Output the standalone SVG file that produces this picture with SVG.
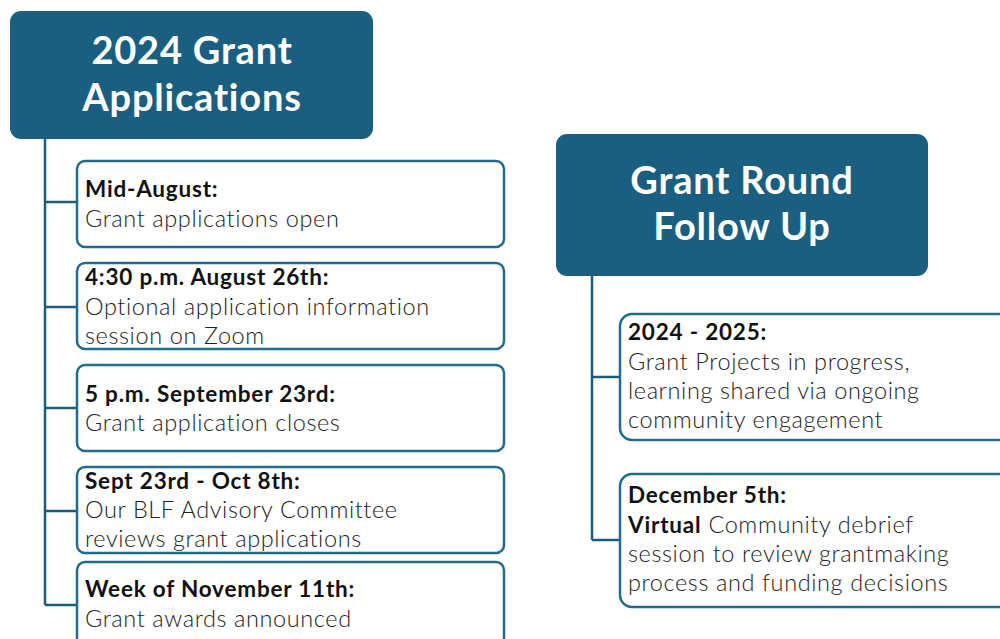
<svg xmlns="http://www.w3.org/2000/svg" width="1000" height="639" viewBox="0 0 1000 639">
<style>
.hdr{fill:#1a5f81}
.ht{font-family:Lato,"Liberation Sans",sans-serif;font-weight:700;font-size:38px;letter-spacing:0.8px;fill:#fff;text-anchor:middle}
.box{fill:#fff;stroke:#226b8c;stroke-width:2.5}
.b{font-family:Lato,"Liberation Sans",sans-serif;font-weight:700;font-size:22.5px;letter-spacing:0.8px;fill:#111}
.r{font-family:Lato,"Liberation Sans",sans-serif;font-weight:300;font-size:23.5px;letter-spacing:0.6px;fill:#222}
.con{fill:none;stroke:#1b5c7c;stroke-width:2.5}
</style>
<rect width="1000" height="639" fill="#fff"/>
<g id="connectors">
<path class="con" d="M45 139V605M45 202H77M45 307H77M45 408H77M45 511H77M45 605H77"/>
<path class="con" d="M592 276V540M592 377H620M592 540H620"/>
</g>
<g id="hdr-left">
<rect class="hdr" x="10" y="11" width="363" height="128" rx="11"/>
<text class="ht" x="192" y="64">2024 Grant</text>
<text class="ht" x="192" y="111">Applications</text>
</g>
<g id="n1">
<rect class="box" x="77" y="161" width="427" height="86" rx="8"/>
<text class="b" x="85" y="197">Mid-August:</text>
<text class="r" x="85" y="227">Grant applications open</text>
</g>
<g id="n2">
<rect class="box" x="77" y="263" width="427" height="86" rx="8"/>
<text class="b" x="85" y="285">4:30 p.m. August 26th:</text>
<text class="r" x="85" y="315">Optional application information</text>
<text class="r" x="85" y="344">session on Zoom</text>
</g>
<g id="n3">
<rect class="box" x="77" y="365" width="427" height="86" rx="8"/>
<text class="b" x="85" y="402">5 p.m. September 23rd:</text>
<text class="r" x="85" y="431">Grant application closes</text>
</g>
<g id="n4">
<rect class="box" x="77" y="467" width="427" height="86" rx="8"/>
<text class="b" x="85" y="489">Sept 23rd - Oct 8th:</text>
<text class="r" x="85" y="518">Our BLF Advisory Committee</text>
<text class="r" x="85" y="547">reviews grant applications</text>
</g>
<g id="n5">
<rect class="box" x="77" y="562" width="427" height="100" rx="8"/>
<text class="b" x="85" y="597">Week of November 11th:</text>
<text class="r" x="85" y="627">Grant awards announced</text>
</g>
<g id="hdr-right">
<rect class="hdr" x="556" y="134" width="372" height="142" rx="11"/>
<text class="ht" x="742" y="194">Grant Round</text>
<text class="ht" x="742" y="240">Follow Up</text>
</g>
<g id="r1">
<rect class="box" x="620" y="314" width="400" height="126" rx="12"/>
<text class="b" x="628" y="340">2024 - 2025:</text>
<text class="r" x="628" y="370">Grant Projects in progress,</text>
<text class="r" x="628" y="399">learning shared via ongoing</text>
<text class="r" x="628" y="428">community engagement</text>
</g>
<g id="r2">
<rect class="box" x="620" y="474" width="400" height="133" rx="12"/>
<text class="b" x="628" y="503">December 5th:</text>
<text x="628" y="533"><tspan class="b" font-size="24">Virtual</tspan><tspan class="r"> Community debrief</tspan></text>
<text class="r" x="628" y="562">session to review grantmaking</text>
<text class="r" x="628" y="591">process and funding decisions</text>
</g>
</svg>
